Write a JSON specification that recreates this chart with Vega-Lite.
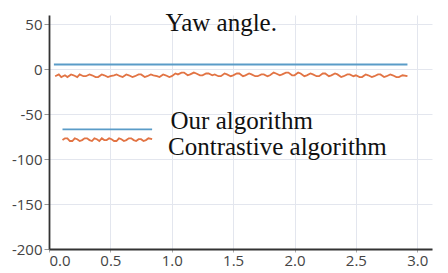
{
  "$schema": "https://vega.github.io/schema/vega-lite/v6.json",
  "width": 383,
  "height": 234,
  "autosize": {"type": "none"},
  "padding": {"left": 49, "top": 15, "right": 16, "bottom": 24},
  "background": "white",
  "config": {"view": {"stroke": null}},
  "datasets": {
    "lines": [
      {"s": "A", "x": 0.04, "y": 5}, {"s": "A", "x": 2.92, "y": 5},
      {"s": "C", "x": 0.11, "y": -67}, {"s": "C", "x": 0.84, "y": -67},
      {"s": "B", "x": 0.05, "y": -8}, {"s": "B", "x": 0.08, "y": -6}, {"s": "B", "x": 0.1, "y": -9}, {"s": "B", "x": 0.13, "y": -7},
      {"s": "B", "x": 0.15, "y": -9}, {"s": "B", "x": 0.18, "y": -6},
      {"s": "B", "x": 0.2, "y": -7}, {"s": "B", "x": 0.23, "y": -9}, {"s": "B", "x": 0.25, "y": -6}, {"s": "B", "x": 0.28, "y": -8},
      {"s": "B", "x": 0.3, "y": -8}, {"s": "B", "x": 0.33, "y": -6},
      {"s": "B", "x": 0.35, "y": -7}, {"s": "B", "x": 0.38, "y": -9}, {"s": "B", "x": 0.4, "y": -9}, {"s": "B", "x": 0.43, "y": -6},
      {"s": "B", "x": 0.45, "y": -7}, {"s": "B", "x": 0.48, "y": -9},
      {"s": "B", "x": 0.5, "y": -8}, {"s": "B", "x": 0.53, "y": -7}, {"s": "B", "x": 0.55, "y": -6}, {"s": "B", "x": 0.58, "y": -8},
      {"s": "B", "x": 0.6, "y": -9}, {"s": "B", "x": 0.63, "y": -6},
      {"s": "B", "x": 0.65, "y": -7}, {"s": "B", "x": 0.68, "y": -9}, {"s": "B", "x": 0.7, "y": -8}, {"s": "B", "x": 0.73, "y": -6},
      {"s": "B", "x": 0.75, "y": -6}, {"s": "B", "x": 0.78, "y": -9},
      {"s": "B", "x": 0.8, "y": -8}, {"s": "B", "x": 0.83, "y": -6}, {"s": "B", "x": 0.85, "y": -7}, {"s": "B", "x": 0.88, "y": -8},
      {"s": "B", "x": 0.9, "y": -9}, {"s": "B", "x": 0.93, "y": -6},
      {"s": "B", "x": 0.95, "y": -7}, {"s": "B", "x": 0.98, "y": -9}, {"s": "B", "x": 1.0, "y": -8}, {"s": "B", "x": 1.03, "y": -5},
      {"s": "B", "x": 1.05, "y": -6}, {"s": "B", "x": 1.08, "y": -4},
      {"s": "B", "x": 1.1, "y": -4}, {"s": "B", "x": 1.13, "y": -7}, {"s": "B", "x": 1.15, "y": -6}, {"s": "B", "x": 1.18, "y": -4},
      {"s": "B", "x": 1.2, "y": -5}, {"s": "B", "x": 1.23, "y": -7},
      {"s": "B", "x": 1.25, "y": -7}, {"s": "B", "x": 1.28, "y": -5}, {"s": "B", "x": 1.3, "y": -5}, {"s": "B", "x": 1.33, "y": -7},
      {"s": "B", "x": 1.35, "y": -6}, {"s": "B", "x": 1.38, "y": -8},
      {"s": "B", "x": 1.4, "y": -8}, {"s": "B", "x": 1.43, "y": -5}, {"s": "B", "x": 1.45, "y": -6}, {"s": "B", "x": 1.48, "y": -8},
      {"s": "B", "x": 1.5, "y": -7}, {"s": "B", "x": 1.53, "y": -5},
      {"s": "B", "x": 1.55, "y": -5}, {"s": "B", "x": 1.58, "y": -8}, {"s": "B", "x": 1.6, "y": -7}, {"s": "B", "x": 1.63, "y": -5},
      {"s": "B", "x": 1.65, "y": -6}, {"s": "B", "x": 1.68, "y": -8},
      {"s": "B", "x": 1.7, "y": -8}, {"s": "B", "x": 1.73, "y": -6}, {"s": "B", "x": 1.75, "y": -6}, {"s": "B", "x": 1.78, "y": -8},
      {"s": "B", "x": 1.8, "y": -7}, {"s": "B", "x": 1.83, "y": -4},
      {"s": "B", "x": 1.85, "y": -5}, {"s": "B", "x": 1.88, "y": -7}, {"s": "B", "x": 1.9, "y": -6}, {"s": "B", "x": 1.93, "y": -4},
      {"s": "B", "x": 1.95, "y": -4}, {"s": "B", "x": 1.98, "y": -7},
      {"s": "B", "x": 2.0, "y": -7}, {"s": "B", "x": 2.03, "y": -4}, {"s": "B", "x": 2.05, "y": -5}, {"s": "B", "x": 2.08, "y": -8},
      {"s": "B", "x": 2.1, "y": -7}, {"s": "B", "x": 2.13, "y": -5},
      {"s": "B", "x": 2.15, "y": -6}, {"s": "B", "x": 2.18, "y": -8}, {"s": "B", "x": 2.2, "y": -8}, {"s": "B", "x": 2.23, "y": -5},
      {"s": "B", "x": 2.25, "y": -5}, {"s": "B", "x": 2.28, "y": -8},
      {"s": "B", "x": 2.3, "y": -7}, {"s": "B", "x": 2.33, "y": -5}, {"s": "B", "x": 2.35, "y": -6}, {"s": "B", "x": 2.38, "y": -9},
      {"s": "B", "x": 2.4, "y": -8}, {"s": "B", "x": 2.43, "y": -6},
      {"s": "B", "x": 2.45, "y": -6}, {"s": "B", "x": 2.48, "y": -8}, {"s": "B", "x": 2.5, "y": -7}, {"s": "B", "x": 2.53, "y": -9},
      {"s": "B", "x": 2.55, "y": -9}, {"s": "B", "x": 2.58, "y": -6},
      {"s": "B", "x": 2.6, "y": -7}, {"s": "B", "x": 2.63, "y": -9}, {"s": "B", "x": 2.65, "y": -8}, {"s": "B", "x": 2.68, "y": -6},
      {"s": "B", "x": 2.7, "y": -6}, {"s": "B", "x": 2.73, "y": -9},
      {"s": "B", "x": 2.75, "y": -8}, {"s": "B", "x": 2.78, "y": -6}, {"s": "B", "x": 2.8, "y": -7}, {"s": "B", "x": 2.83, "y": -9},
      {"s": "B", "x": 2.85, "y": -9}, {"s": "B", "x": 2.88, "y": -7},
      {"s": "B", "x": 2.92, "y": -8},
      {"s": "D", "x": 0.11, "y": -79}, {"s": "D", "x": 0.13, "y": -77}, {"s": "D", "x": 0.15, "y": -77}, {"s": "D", "x": 0.17, "y": -80},
      {"s": "D", "x": 0.19, "y": -80}, {"s": "D", "x": 0.21, "y": -77},
      {"s": "D", "x": 0.23, "y": -78}, {"s": "D", "x": 0.25, "y": -80}, {"s": "D", "x": 0.27, "y": -79}, {"s": "D", "x": 0.29, "y": -77},
      {"s": "D", "x": 0.31, "y": -77}, {"s": "D", "x": 0.33, "y": -79},
      {"s": "D", "x": 0.35, "y": -80}, {"s": "D", "x": 0.37, "y": -77}, {"s": "D", "x": 0.39, "y": -78}, {"s": "D", "x": 0.41, "y": -80},
      {"s": "D", "x": 0.43, "y": -77}, {"s": "D", "x": 0.45, "y": -79},
      {"s": "D", "x": 0.47, "y": -79}, {"s": "D", "x": 0.49, "y": -77}, {"s": "D", "x": 0.51, "y": -78}, {"s": "D", "x": 0.53, "y": -80},
      {"s": "D", "x": 0.55, "y": -80}, {"s": "D", "x": 0.57, "y": -77},
      {"s": "D", "x": 0.59, "y": -78}, {"s": "D", "x": 0.61, "y": -80}, {"s": "D", "x": 0.63, "y": -79}, {"s": "D", "x": 0.65, "y": -77},
      {"s": "D", "x": 0.67, "y": -77}, {"s": "D", "x": 0.69, "y": -79},
      {"s": "D", "x": 0.71, "y": -80}, {"s": "D", "x": 0.73, "y": -78}, {"s": "D", "x": 0.75, "y": -78}, {"s": "D", "x": 0.77, "y": -80},
      {"s": "D", "x": 0.79, "y": -79}, {"s": "D", "x": 0.81, "y": -77},
      {"s": "D", "x": 0.84, "y": -78}
    ],
    "labels": [
      {"t": "Yaw angle.", "x": 0.95, "y": 51},
      {"t": "Our algorithm", "x": 0.99, "y": -58},
      {"t": "Contrastive algorithm", "x": 0.97, "y": -87}
    ]
  },
  "layer": [
    {
      "data": {"name": "lines"},
      "mark": {"type": "line", "strokeWidth": 1.8, "clip": true},
      "encoding": {
        "x": {
          "field": "x", "type": "quantitative",
          "scale": {"domain": [0, 3.12], "nice": false},
          "axis": {
            "title": null, "values": [0, 0.5, 1, 1.5, 2, 2.5, 3],
            "labelFont": "Open Sans", "labelFontSize": 15, "labelColor": "#444",
            "domainColor": "#333", "domainWidth": 1.8, "tickColor": "#aaa", "tickSize": 3,
            "gridColor": "#e3e6ee", "labelPadding": 1
          }
        },
        "y": {
          "field": "y", "type": "quantitative",
          "scale": {"domain": [-200, 60], "nice": false},
          "axis": {
            "title": null, "values": [-200, -150, -100, -50, 0, 50],
            "labelExpr": "replace(datum.label, '−', '-')",
            "labelFont": "Open Sans", "labelFontSize": 15, "labelColor": "#444",
            "domainColor": "#333", "domainWidth": 1.8, "tickColor": "#999", "tickSize": 5,
            "gridColor": "#e3e6ee", "labelPadding": 2
          }
        },
        "color": {
          "field": "s", "type": "nominal",
          "scale": {"domain": ["A", "B", "C", "D"], "range": ["#5a9cc8", "#e27444", "#5a9cc8", "#e27444"]},
          "legend": null
        },
        "detail": {"field": "s"}
      }
    },
    {
      "data": {"name": "labels"},
      "mark": {"type": "text", "align": "left", "baseline": "middle", "font": "Liberation Serif", "fontSize": 25, "color": "#111"},
      "encoding": {
        "x": {"field": "x", "type": "quantitative"},
        "y": {"field": "y", "type": "quantitative"},
        "text": {"field": "t"}
      }
    }
  ]
}
